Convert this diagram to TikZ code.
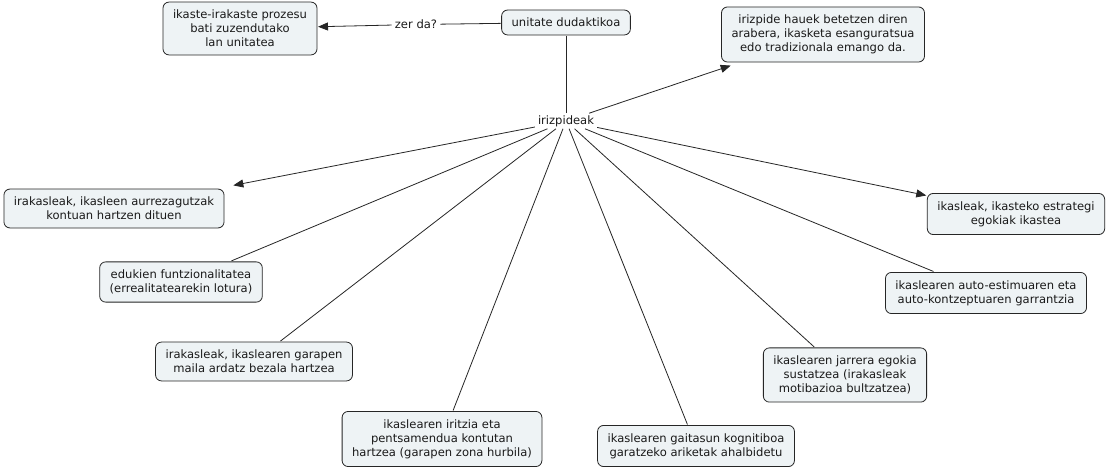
\documentclass[tikz,border=0pt]{standalone}
\usepackage{fontspec}
\setmainfont{DejaVu Sans}
\usetikzlibrary{arrows.meta}
\definecolor{Box}{HTML}{EEF3F5}
\definecolor{Edge}{HTML}{262626}
\definecolor{Ink}{HTML}{1A1A1A}

\begin{document}
\begin{tikzpicture}[x=1bp,y=-1bp,font=\fontsize{11.6}{14}\selectfont, concept/.style={draw=Edge,fill=Box,rounded corners=6bp,align=center,text=Ink,inner xsep=10bp,inner ysep=8bp,line width=0.8bp,outer sep=1bp}, plain/.style={text=Ink,inner xsep=3bp,inner ysep=2bp}, link/.style={draw=Edge,line width=0.8bp}, arrow/.style={link,-{Triangle[length=10bp,width=8bp]}}]
\fill[white] (0,0) rectangle (1110,471);
\useasboundingbox (0,0) rectangle (1110,471);
\node[concept] (unit) at (566,22.5) {unitate dudaktikoa};
\node[concept] (def) at (240,28.5) {ikaste-irakaste prozesu\\bati zuzendutako\\lan unitatea};
\node[plain] (zerda) at (416,24.5) {zer da?};
\node[concept] (crit) at (823,34.5) {irizpide hauek betetzen diren\\arabera, ikasketa esanguratsua\\edo tradizionala emango da.};
\node[plain] (iriz) at (566,121) {irizpideak};
\node[concept] (prior) at (114,208.5) {irakasleak, ikasleen aurrezagutzak\\kontuan hartzen dituen};
\node[concept] (func) at (181,282) {edukien funtzionalitatea\\(errealitatearekin lotura)};
\node[concept] (level) at (254,361.5) {irakasleak, ikaslearen garapen\\maila ardatz bezala hartzea};
\node[concept] (opin) at (442,439) {ikaslearen iritzia eta\\pentsamendua kontutan\\hartzea (garapen zona hurbila)};
\node[concept] (cogn) at (696,446) {ikaslearen gaitasun kognitiboa\\garatzeko ariketak ahalbidetu};
\node[concept] (attit) at (845,375) {ikaslearen jarrera egokia\\sustatzea (irakasleak\\motibazioa bultzatzea)};
\node[concept] (self) at (986,293) {ikaslearen auto-estimuaren eta\\auto-kontzeptuaren garrantzia};
\node[concept] (strat) at (1016,214) {ikasleak, ikasteko estrategi\\egokiak ikastea};
\draw[link] (unit) -- (zerda);\draw[arrow] (zerda) -- (def);
\draw[link] (unit) -- (iriz);
\draw[arrow,shorten >=8bp] (iriz) -- (crit);\draw[arrow,shorten >=14bp] (iriz) -- (prior);\draw[arrow] (iriz) -- (strat);
\draw[link] (iriz) -- (func);\draw[link] (iriz) -- (level);\draw[link] (iriz) -- (opin);\draw[link] (iriz) -- (cogn);\draw[link] (iriz) -- (attit);\draw[link] (iriz) -- (self);
\end{tikzpicture}
\end{document}
